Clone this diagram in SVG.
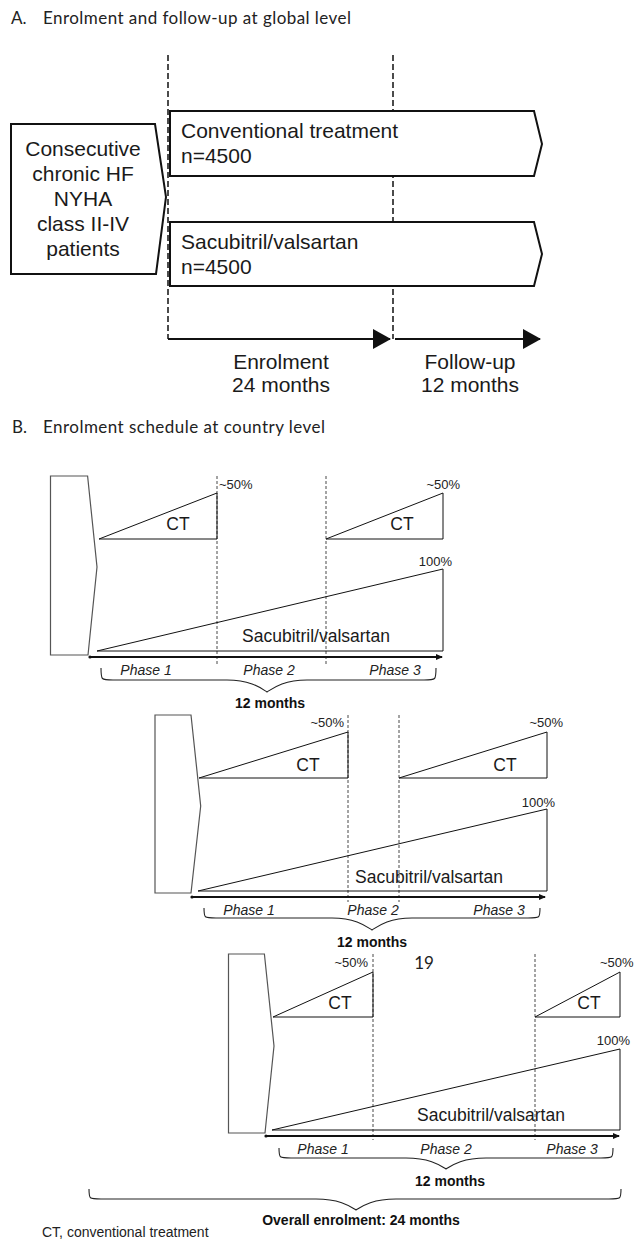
<svg xmlns="http://www.w3.org/2000/svg" width="634" height="1258" viewBox="0 0 634 1258">
<defs>
<style>
.title{font-family:Lato,"Liberation Sans",sans-serif;font-size:17px;fill:#222}
.big{font-family:"Liberation Sans",Arial,sans-serif;font-size:21px;fill:#1a1a1a}
.lbl{font-family:"Liberation Sans",Arial,sans-serif;font-size:17.5px;fill:#1a1a1a}
.pct{font-family:"Liberation Sans",Arial,sans-serif;font-size:13px;fill:#222}
.ph{font-family:"Liberation Sans",Arial,sans-serif;font-size:14px;font-style:italic;fill:#222}
.bold{font-family:"Liberation Sans",Arial,sans-serif;font-size:14px;font-weight:bold;fill:#111}
.small{font-family:"Liberation Sans",Arial,sans-serif;font-size:14px;fill:#222}
.mid{text-anchor:middle}
.end{text-anchor:end}
.boxA{fill:#fff;stroke:#111;stroke-width:2}
.boxB{fill:#fff;stroke:#555;stroke-width:1.2}
.tri{fill:none;stroke:#111;stroke-width:1}
.dashA{stroke:#111;stroke-width:1.5;stroke-dasharray:6 3;fill:none}
.dashB{stroke:#333;stroke-width:0.9;stroke-dasharray:3 2;fill:none}
.axA{stroke:#111;stroke-width:2;fill:none}
.axB{stroke:#111;stroke-width:2;fill:none}
.brace{stroke:#222;stroke-width:1.1;fill:none}
</style>
<marker id="headA" markerWidth="18" markerHeight="20" refX="17" refY="10" orient="auto" markerUnits="userSpaceOnUse">
<path d="M0,0 L18,10 L0,20 z" fill="#111"/>
</marker>
<marker id="headB" markerWidth="7" markerHeight="6" refX="6" refY="3" orient="auto" markerUnits="userSpaceOnUse">
<path d="M0,0 L7,3 L0,6 z" fill="#111"/>
</marker>
</defs>
<rect width="634" height="1258" fill="#fff"/>

<g id="titleA">
<text class="title" x="11" y="24">A.</text>
<text class="title" x="43" y="24" textLength="308" lengthAdjust="spacing">Enrolment and follow-up at global level</text>
</g>

<g id="connectorsA">
<line class="dashA" x1="168" y1="55" x2="168" y2="339"/>
<line class="dashA" x1="393" y1="55" x2="393" y2="339"/>
<line class="axA" x1="168" y1="339" x2="390" y2="339" marker-end="url(#headA)"/>
<line class="axA" x1="395" y1="339" x2="540" y2="339" marker-end="url(#headA)"/>
</g>

<g id="patients">
<path class="boxA" d="M11,124 L155,124 L166,197 L156,274 L11,274 Z"/>
<text class="big mid" x="83" y="155.5">Consecutive</text>
<text class="big mid" x="83" y="180.5">chronic HF</text>
<text class="big mid" x="83" y="205.5">NYHA</text>
<text class="big mid" x="83" y="230.5">class II-IV</text>
<text class="big mid" x="83" y="255.5">patients</text>
</g>

<g id="conventional">
<path class="boxA" d="M170,111 L534,111 L542,144 L534,176 L170,176 Z"/>
<text class="big" x="181" y="137.5">Conventional treatment</text>
<text class="big" x="181" y="162.5">n=4500</text>
</g>

<g id="sacubitrilA">
<path class="boxA" d="M170,222 L534,222 L542,254 L534,286 L170,286 Z"/>
<text class="big" x="181" y="248.5">Sacubitril/valsartan</text>
<text class="big" x="181" y="273.5">n=4500</text>
</g>

<g id="enrolmentLabel">
<text class="big mid" x="281" y="369">Enrolment</text>
<text class="big mid" x="281" y="392">24 months</text>
</g>
<g id="followupLabel">
<text class="big mid" x="470" y="369">Follow-up</text>
<text class="big mid" x="470" y="392">12 months</text>
</g>

<g id="titleB">
<text class="title" x="12" y="432.5">B.</text>
<text class="title" x="43" y="432.5" textLength="282" lengthAdjust="spacing">Enrolment schedule at country level</text>
</g>

<!-- Panel 1 -->
<g id="panel1">
<path class="boxB" d="M50.5,476 L87.6,476 L97,567 L88,655 L50.5,655 Z"/>
<line class="dashB" x1="217" y1="476" x2="217" y2="664"/>
<line class="dashB" x1="326" y1="476" x2="326" y2="664"/>
<path class="tri" d="M99,539 L217,539 L217,493 Z"/>
<path class="tri" d="M326,539 L443,539 L443,493 Z"/>
<path class="tri" d="M97,651 L443,651 L443,569 Z"/>
<text class="lbl mid" x="178" y="530">CT</text>
<text class="lbl mid" x="402" y="530">CT</text>
<text class="pct" x="219" y="489">~50%</text>
<text class="pct end" x="460" y="489">~50%</text>
<text class="pct end" x="452" y="566">100%</text>
<text class="lbl mid" x="316" y="642">Sacubitril/valsartan</text>
<circle cx="90" cy="657" r="1.6" fill="#111"/>
<line class="axB" x1="90" y1="657" x2="442" y2="657" marker-end="url(#headB)"/>
<text class="ph mid" x="146" y="675">Phase 1</text>
<text class="ph mid" x="269" y="675">Phase 2</text>
<text class="ph mid" x="395" y="675">Phase 3</text>
<path class="brace" d="M101,668 C101,680 101,680 113,680 L227,680 C252,680 262,689 267,692 C272,689 282,680 307,680 L424,680 C436,680 436,680 436,668"/>
<text class="bold mid" x="270" y="708">12 months</text>
</g>

<!-- Panel 2 -->
<g id="panel2">
<path class="boxB" d="M155,715 L191,715 L200.7,806 L191,893 L155,893 Z"/>
<line class="dashB" x1="348" y1="715" x2="348" y2="902"/>
<line class="dashB" x1="399" y1="715" x2="399" y2="902"/>
<path class="tri" d="M199,778 L348,778 L348,732 Z"/>
<path class="tri" d="M399,778 L547,778 L547,732 Z"/>
<path class="tri" d="M198,891 L547,891 L547,809 Z"/>
<text class="lbl mid" x="308" y="771">CT</text>
<text class="lbl mid" x="505" y="771">CT</text>
<text class="pct end" x="344" y="727">~50%</text>
<text class="pct end" x="563" y="727">~50%</text>
<text class="pct end" x="555" y="807">100%</text>
<text class="lbl mid" x="429" y="883">Sacubitril/valsartan</text>
<circle cx="192" cy="897" r="1.6" fill="#111"/>
<line class="axB" x1="192" y1="897" x2="545" y2="897" marker-end="url(#headB)"/>
<text class="ph mid" x="249" y="915">Phase 1</text>
<text class="ph mid" x="373" y="915">Phase 2</text>
<text class="ph mid" x="499" y="915">Phase 3</text>
<path class="brace" d="M204,908 C204,918 204,918 216,918 L332,918 C357,918 367,927 372,930 C377,927 387,918 412,918 L528,918 C540,918 540,918 540,908"/>
<text class="bold mid" x="372" y="947">12 months</text>
</g>

<g id="pageNumber">
<text class="title mid" x="424" y="969">19</text>
</g>

<!-- Panel 3 -->
<g id="panel3">
<path class="boxB" d="M228.5,954 L264.4,954 L274,1046 L265,1133 L228.5,1133 Z"/>
<line class="dashB" x1="373" y1="954" x2="373" y2="1140"/>
<line class="dashB" x1="535" y1="954" x2="535" y2="1140"/>
<path class="tri" d="M273,1017 L373,1017 L373,972 Z"/>
<path class="tri" d="M535,1017 L620,1017 L620,972 Z"/>
<path class="tri" d="M272,1130 L620,1130 L620,1049 Z"/>
<text class="lbl mid" x="340" y="1009">CT</text>
<text class="lbl mid" x="589" y="1009">CT</text>
<text class="pct end" x="368" y="967">~50%</text>
<text class="pct" x="600" y="967">~50%</text>
<text class="pct end" x="630" y="1045">100%</text>
<text class="lbl mid" x="491" y="1121">Sacubitril/valsartan</text>
<circle cx="266" cy="1136" r="1.6" fill="#111"/>
<line class="axB" x1="266" y1="1136" x2="619" y2="1136" marker-end="url(#headB)"/>
<text class="ph mid" x="323" y="1154">Phase 1</text>
<text class="ph mid" x="446" y="1154">Phase 2</text>
<text class="ph mid" x="572" y="1154">Phase 3</text>
<path class="brace" d="M279,1148 C279,1158 279,1158 291,1158 L406,1158 C431,1158 441,1166 446,1169 C451,1166 461,1158 486,1158 L601,1158 C613,1158 613,1158 613,1148"/>
<text class="bold mid" x="450" y="1186">12 months</text>
</g>

<g id="overall">
<path class="brace" d="M89,1189 C89,1199 89,1199 101,1199 L316,1199 C341,1199 351,1207 356,1210 C361,1207 371,1199 396,1199 L609,1199 C621,1199 621,1199 621,1189"/>
<text class="bold mid" x="361" y="1225">Overall enrolment: 24 months</text>
</g>

<g id="legend">
<text class="small" x="42" y="1237">CT, conventional treatment</text>
</g>
</svg>
